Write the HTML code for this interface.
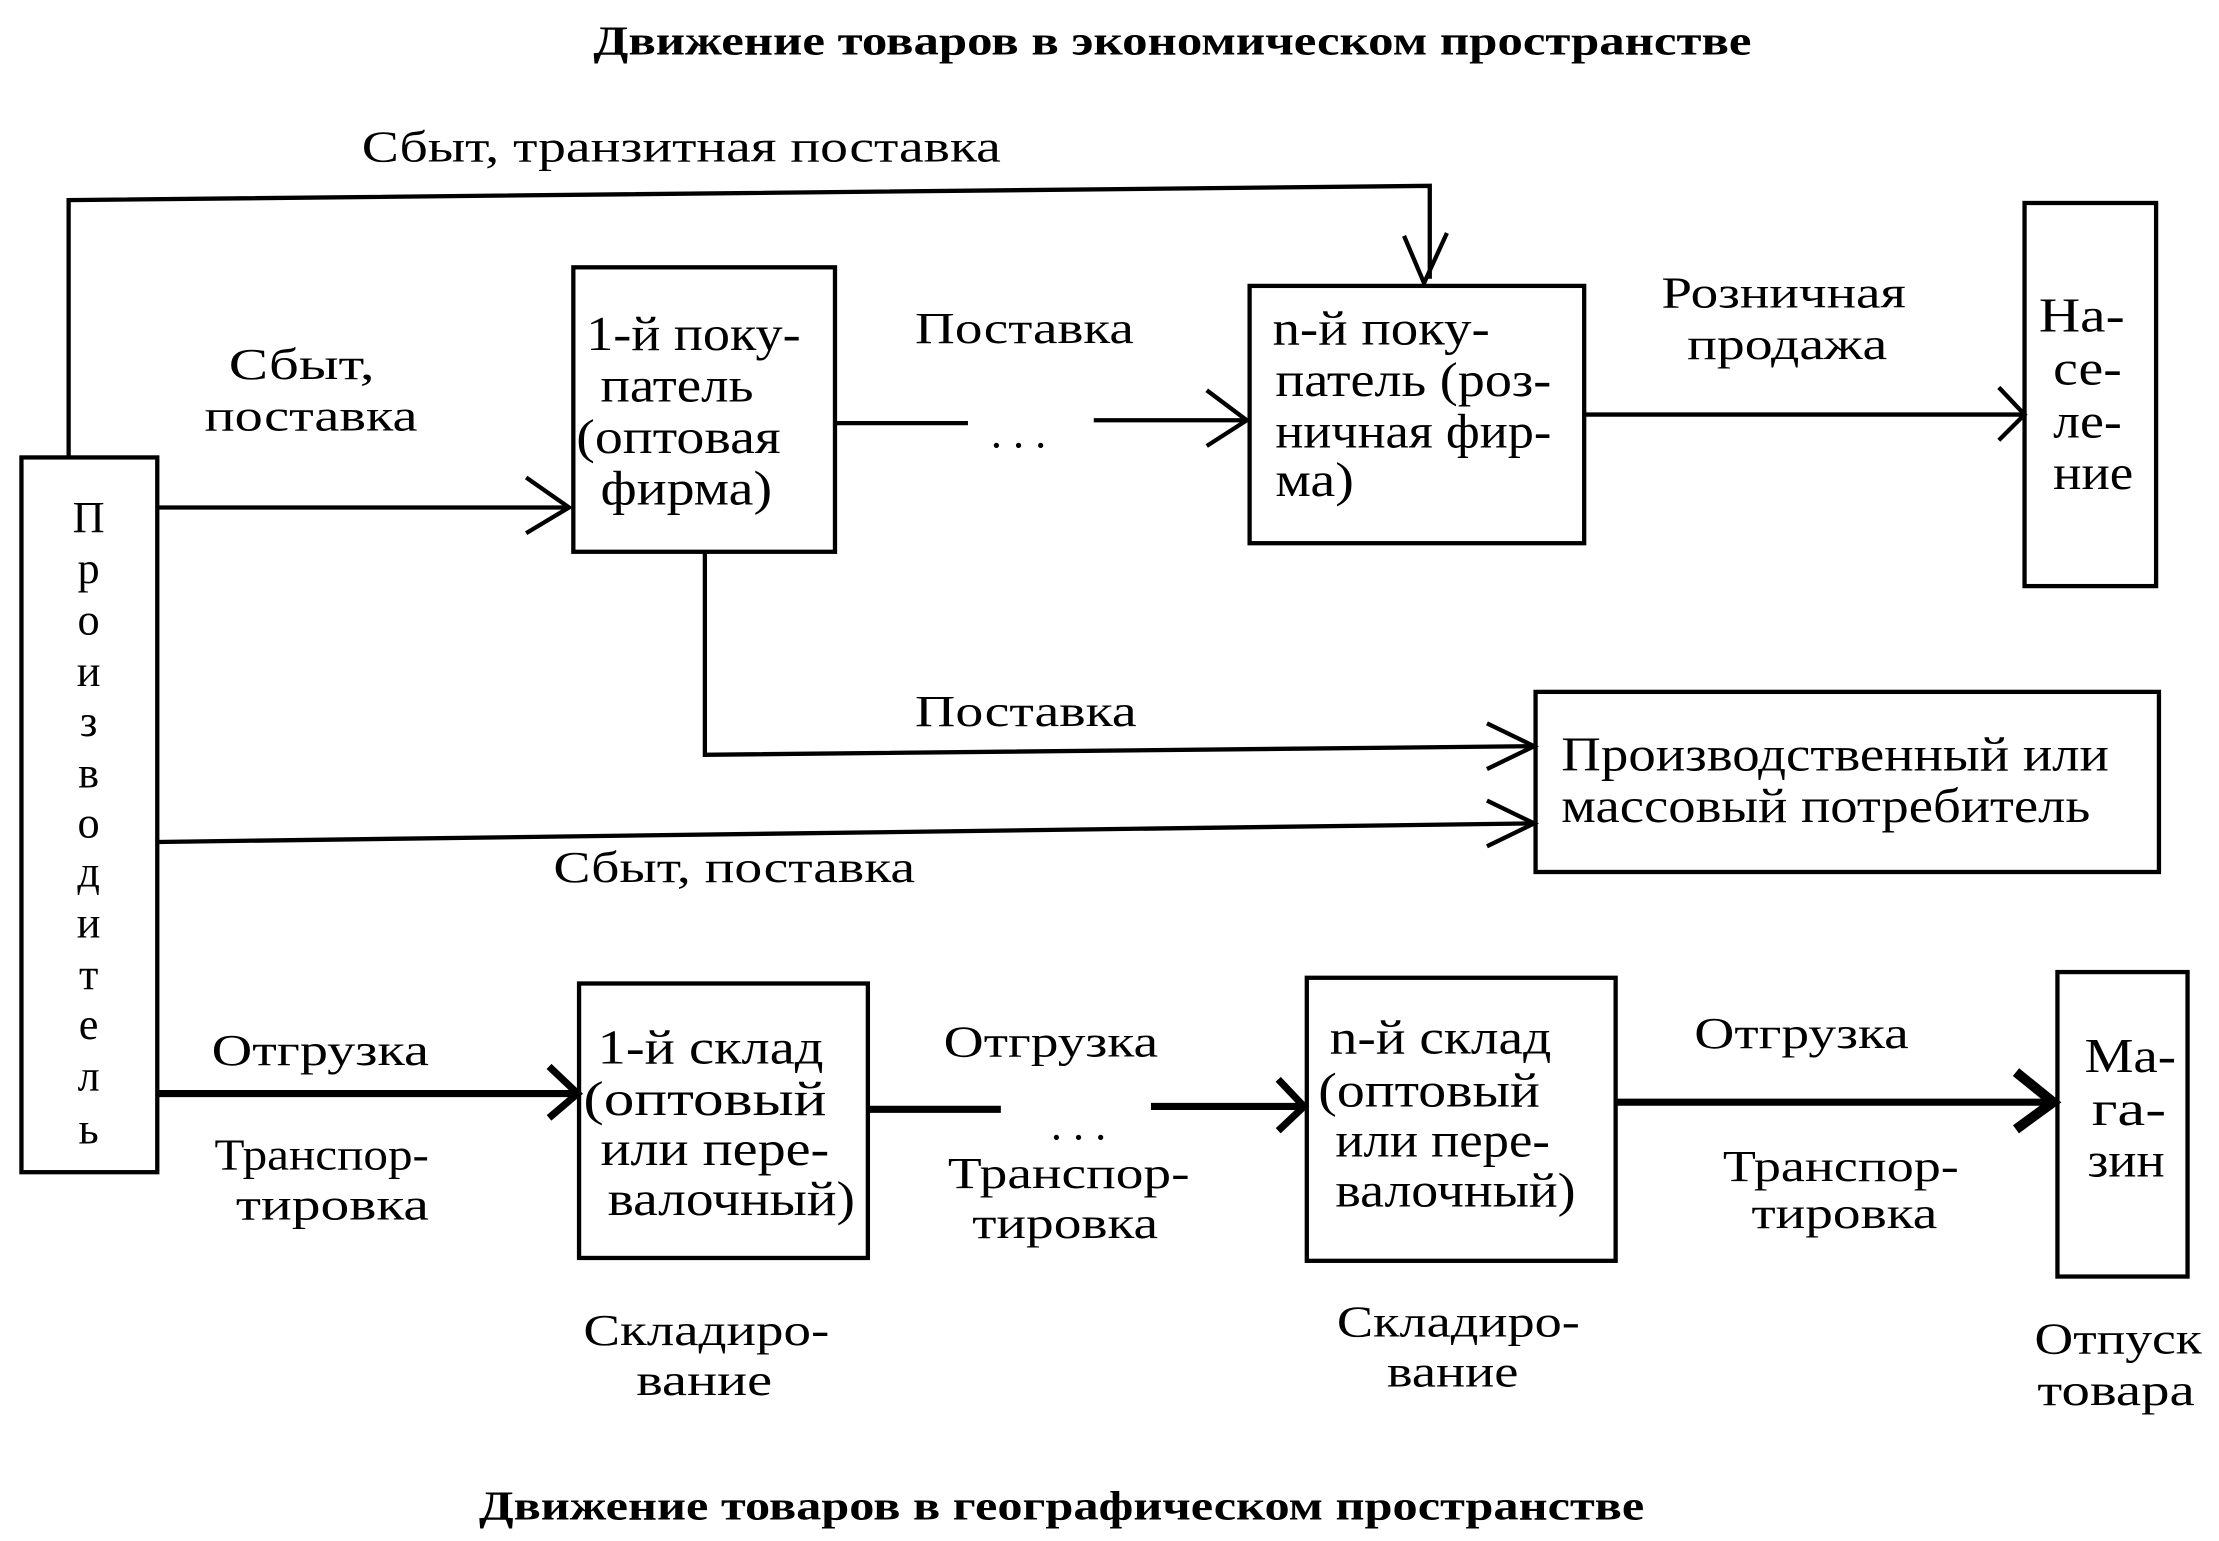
<!DOCTYPE html>
<html><head><meta charset="utf-8"><style>
html,body{margin:0;padding:0;background:#fff;}
svg{display:block;}
text{font-family:"Liberation Serif","DejaVu Serif",serif;fill:#000;font-size:31px;}
.b{font-weight:bold;font-size:29px;}
.t{font-size:34px;}
</style></head><body>
<svg width="2219" height="1541" viewBox="0 0 1552 1078" preserveAspectRatio="none" xmlns="http://www.w3.org/2000/svg">
<g stroke="#000" fill="none" stroke-width="3">
<polyline points="48,320 48,140 1000,130 1000,195"/>
<polyline points="982,165 996,198 1012,163"/>
<rect x="15" y="320" width="95" height="500"/>
<line x1="110" y1="355" x2="398" y2="355"/>
<polyline points="368,334 398,355 368,373"/>
<rect x="401" y="187" width="183" height="199"/>
<line x1="584" y1="296" x2="677" y2="296"/>
<line x1="765" y1="294" x2="872" y2="294"/>
<polyline points="844,273 872,294 844,312"/>
<rect x="874" y="200" width="234" height="180"/>
<line x1="1108" y1="290" x2="1416" y2="290"/>
<polyline points="1398,271 1416,290 1398,308"/>
<rect x="1416" y="142" width="92" height="268"/>
<polyline points="493,387 493,528 1073,522"/>
<polyline points="1040,506 1073,522 1040,538"/>
<rect x="1074" y="484" width="436" height="126"/>
<line x1="110" y1="589" x2="1073" y2="576"/>
<polyline points="1040,560 1073,576 1040,592"/>
<rect x="405" y="688" width="202" height="192"/>
<rect x="914" y="684" width="216" height="198"/>
<rect x="1439" y="680" width="91" height="213"/>
</g>
<g stroke="#000" fill="none" stroke-width="5">
<line x1="110" y1="765" x2="404" y2="765"/>
<polyline points="384,746 404,765 384,782"/>
<line x1="607" y1="776" x2="700" y2="776"/>
<line x1="805" y1="774" x2="912" y2="774"/>
<polyline points="894,755 912,774 894,791"/>
<line x1="1130" y1="771" x2="1436" y2="771"/>
<polyline points="1410,750 1436,771 1410,790" stroke-width="7"/>
</g>
<text class="b" x="415" y="38" textLength="810" lengthAdjust="spacingAndGlyphs">Движение товаров в экономическом пространстве</text>
<text class="b" x="335" y="1063" textLength="815" lengthAdjust="spacingAndGlyphs">Движение товаров в географическом пространстве</text>
<text x="253" y="113" textLength="447" lengthAdjust="spacingAndGlyphs">Сбыт, транзитная поставка</text>
<text x="160" y="265" textLength="102" lengthAdjust="spacingAndGlyphs">Сбыт,</text>
<text x="143" y="301" textLength="149" lengthAdjust="spacingAndGlyphs">поставка</text>
<g font-size="30">
<text x="62" y="372" text-anchor="middle">П</text>
<text x="62" y="408" text-anchor="middle">р</text>
<text x="62" y="444" text-anchor="middle">о</text>
<text x="62" y="480" text-anchor="middle">и</text>
<text x="62" y="515" text-anchor="middle">з</text>
<text x="62" y="551" text-anchor="middle">в</text>
<text x="62" y="586" text-anchor="middle">о</text>
<text x="62" y="620" text-anchor="middle">д</text>
<text x="62" y="656" text-anchor="middle">и</text>
<text x="62" y="692" text-anchor="middle">т</text>
<text x="62" y="727" text-anchor="middle">е</text>
<text x="62" y="763" text-anchor="middle">л</text>
<text x="62" y="800" text-anchor="middle">ь</text>
</g>
<text class="t" x="410" y="245" textLength="150" lengthAdjust="spacingAndGlyphs">1-й поку-</text>
<text class="t" x="420" y="281" textLength="107" lengthAdjust="spacingAndGlyphs">патель</text>
<text class="t" x="403" y="317" textLength="143" lengthAdjust="spacingAndGlyphs">(оптовая</text>
<text class="t" x="420" y="353" textLength="120" lengthAdjust="spacingAndGlyphs">фирма)</text>
<text x="640" y="240" textLength="153" lengthAdjust="spacingAndGlyphs">Поставка</text>
<text x="693" y="313">. . .</text>
<text class="t" x="890" y="241" textLength="152" lengthAdjust="spacingAndGlyphs">n-й поку-</text>
<text class="t" x="892" y="277" textLength="193" lengthAdjust="spacingAndGlyphs">патель (роз-</text>
<text class="t" x="892" y="313" textLength="193" lengthAdjust="spacingAndGlyphs">ничная фир-</text>
<text class="t" x="892" y="347" textLength="55" lengthAdjust="spacingAndGlyphs">ма)</text>
<text x="1162" y="215" textLength="171" lengthAdjust="spacingAndGlyphs">Розничная</text>
<text x="1180" y="251" textLength="140" lengthAdjust="spacingAndGlyphs">продажа</text>
<text class="t" x="1426" y="232" textLength="60" lengthAdjust="spacingAndGlyphs">На-</text>
<text class="t" x="1436" y="269" textLength="48" lengthAdjust="spacingAndGlyphs">се-</text>
<text class="t" x="1436" y="306" textLength="48" lengthAdjust="spacingAndGlyphs">ле-</text>
<text class="t" x="1436" y="342" textLength="56" lengthAdjust="spacingAndGlyphs">ние</text>
<text x="640" y="508" textLength="155" lengthAdjust="spacingAndGlyphs">Поставка</text>
<text class="t" x="1092" y="539" textLength="383" lengthAdjust="spacingAndGlyphs">Производственный или</text>
<text class="t" x="1092" y="575" textLength="370" lengthAdjust="spacingAndGlyphs">массовый потребитель</text>
<text x="387" y="617" textLength="253" lengthAdjust="spacingAndGlyphs">Сбыт, поставка</text>
<text x="148" y="745" textLength="152" lengthAdjust="spacingAndGlyphs">Отгрузка</text>
<text x="150" y="818" textLength="150" lengthAdjust="spacingAndGlyphs">Транспор-</text>
<text x="165" y="853" textLength="135" lengthAdjust="spacingAndGlyphs">тировка</text>
<text class="t" x="418" y="744" textLength="158" lengthAdjust="spacingAndGlyphs">1-й склад</text>
<text class="t" x="408" y="780" textLength="170" lengthAdjust="spacingAndGlyphs">(оптовый</text>
<text class="t" x="420" y="815" textLength="160" lengthAdjust="spacingAndGlyphs">или пере-</text>
<text class="t" x="425" y="850" textLength="173" lengthAdjust="spacingAndGlyphs">валочный)</text>
<text x="660" y="739" textLength="150" lengthAdjust="spacingAndGlyphs">Отгрузка</text>
<text x="735" y="797">. . .</text>
<text x="663" y="831" textLength="169" lengthAdjust="spacingAndGlyphs">Транспор-</text>
<text x="680" y="866" textLength="130" lengthAdjust="spacingAndGlyphs">тировка</text>
<text class="t" x="930" y="737" textLength="155" lengthAdjust="spacingAndGlyphs">n-й склад</text>
<text class="t" x="922" y="774" textLength="155" lengthAdjust="spacingAndGlyphs">(оптовый</text>
<text class="t" x="934" y="809" textLength="150" lengthAdjust="spacingAndGlyphs">или пере-</text>
<text class="t" x="934" y="844" textLength="168" lengthAdjust="spacingAndGlyphs">валочный)</text>
<text x="1185" y="733" textLength="150" lengthAdjust="spacingAndGlyphs">Отгрузка</text>
<text x="1205" y="826" textLength="165" lengthAdjust="spacingAndGlyphs">Транспор-</text>
<text x="1225" y="859" textLength="130" lengthAdjust="spacingAndGlyphs">тировка</text>
<text class="t" x="1458" y="750" textLength="64" lengthAdjust="spacingAndGlyphs">Ма-</text>
<text class="t" x="1463" y="787" textLength="52" lengthAdjust="spacingAndGlyphs">га-</text>
<text class="t" x="1460" y="823" textLength="54" lengthAdjust="spacingAndGlyphs">зин</text>
<text x="408" y="941" textLength="172" lengthAdjust="spacingAndGlyphs">Складиро-</text>
<text x="445" y="976" textLength="95" lengthAdjust="spacingAndGlyphs">вание</text>
<text x="935" y="935" textLength="170" lengthAdjust="spacingAndGlyphs">Складиро-</text>
<text x="970" y="970" textLength="92" lengthAdjust="spacingAndGlyphs">вание</text>
<text x="1423" y="947" textLength="117" lengthAdjust="spacingAndGlyphs">Отпуск</text>
<text x="1425" y="983" textLength="110" lengthAdjust="spacingAndGlyphs">товара</text>
</svg>
</body></html>
